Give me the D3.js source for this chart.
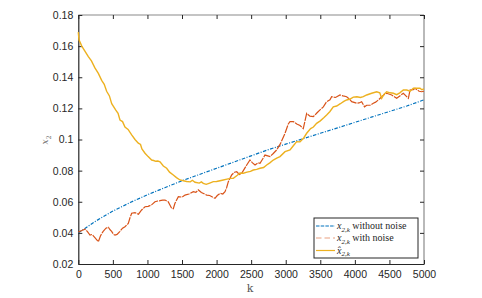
<!DOCTYPE html>
<html><head><meta charset="utf-8">
<script src="https://cdn.jsdelivr.net/npm/d3@7"></script>
<style>body{margin:0;background:#fff}svg{display:block}</style>
</head><body>
<svg id="c" width="482" height="298"></svg>
<script>
const xTicks = [0,500,1000,1500,2000,2500,3000,3500,4000,4500,5000];
const yTicks = [0.02,0.04,0.06,0.08,0.1,0.12,0.14,0.16,0.18];

const kBlue = [0,250,500,750,1000,1250,1500,1750,2000,2250,2500,2750,3000,3250,3500,3750,4000,4250,4500,4750,5000];
const vBlue = [0.040,0.0475,0.054,0.0595,0.0645,0.069,0.0735,0.0775,0.0815,0.0855,0.0895,0.0935,0.097,0.1005,0.104,0.1075,0.111,0.1145,0.118,0.1215,0.1255];

const kRed = [0,50,97,130,169,200,240,290,320,357,400,434,460,482,510,531,560,603,640,675,723,750,772,820,870,916,965,1010,1060,1109,1150,1182,1220,1254,1300,1350,1374,1398,1447,1500,1543,1600,1663,1700,1736,1780,1857,1900,1977,2010,2050,2090,2122,2145,2170,2218,2260,2291,2330,2363,2400,2436,2483,2520,2556,2600,2628,2660,2700,2740,2773,2820,2869,2920,2990,3037,3062,3110,3160,3207,3254,3303,3350,3399,3450,3496,3544,3592,3640,3664,3720,3785,3830,3881,3920,3954,4026,4060,4098,4140,4171,4219,4267,4300,4340,4388,4430,4460,4533,4605,4650,4701,4774,4798,4846,4870,4930,4966,5000];
const vRed = [0.0405,0.0415,0.0423,0.041,0.0386,0.039,0.037,0.0343,0.038,0.0408,0.043,0.0436,0.042,0.041,0.039,0.0386,0.039,0.041,0.043,0.044,0.046,0.050,0.0526,0.053,0.052,0.0547,0.0568,0.057,0.058,0.060,0.0605,0.0607,0.061,0.0611,0.060,0.0558,0.0555,0.059,0.0633,0.063,0.0643,0.065,0.0665,0.066,0.0676,0.066,0.0643,0.064,0.0622,0.064,0.0654,0.065,0.0665,0.069,0.0729,0.0772,0.079,0.0793,0.0775,0.0783,0.081,0.0836,0.0868,0.085,0.0836,0.085,0.0847,0.087,0.090,0.0895,0.089,0.091,0.0933,0.097,0.104,0.110,0.1115,0.1115,0.110,0.109,0.107,0.1168,0.115,0.1147,0.117,0.119,0.121,0.1243,0.1255,0.1275,0.127,0.1286,0.128,0.1275,0.126,0.1243,0.1233,0.1235,0.1243,0.121,0.122,0.122,0.1233,0.124,0.1254,0.1275,0.129,0.1297,0.1286,0.1265,0.128,0.1297,0.1265,0.1318,0.132,0.1329,0.131,0.1307,0.131];

const kYel = [0,10,50,100,145,190,240,290,338,375,410,450,483,540,575,603,640,675,720,772,820,868,900,920,965,1010,1061,1090,1120,1150,1182,1230,1278,1320,1374,1420,1471,1520,1568,1620,1650,1688,1750,1780,1808,1850,1900,1953,2000,2050,2097,2150,2200,2242,2300,2339,2387,2440,2490,2531,2580,2628,2680,2725,2770,2820,2870,2917,2990,3062,3110,3158,3207,3260,3303,3360,3400,3447,3500,3550,3592,3640,3688,3737,3790,3840,3881,3930,3978,4030,4080,4122,4171,4243,4316,4360,4388,4420,4460,4510,4557,4605,4650,4701,4750,4800,4846,4895,4942,4970,5000];
const vYel = [0.169,0.164,0.160,0.1565,0.1532,0.1505,0.146,0.1425,0.138,0.1355,0.131,0.128,0.123,0.119,0.1168,0.1125,0.1115,0.108,0.1065,0.103,0.100,0.0976,0.0968,0.094,0.0912,0.089,0.0868,0.0865,0.086,0.0862,0.0857,0.083,0.0815,0.079,0.0772,0.0755,0.074,0.0735,0.073,0.0728,0.0738,0.0725,0.072,0.0728,0.0718,0.0712,0.072,0.0729,0.073,0.0735,0.074,0.0745,0.075,0.0751,0.077,0.0785,0.0783,0.079,0.0795,0.0804,0.0808,0.0815,0.082,0.0836,0.085,0.0868,0.088,0.089,0.0922,0.0933,0.096,0.0986,0.0985,0.101,0.104,0.107,0.108,0.1104,0.112,0.114,0.1158,0.118,0.121,0.1215,0.123,0.1245,0.1254,0.126,0.1272,0.1275,0.127,0.1275,0.1286,0.1297,0.1307,0.130,0.1265,0.129,0.1307,0.130,0.1297,0.1288,0.130,0.1318,0.1318,0.131,0.1329,0.1329,0.1329,0.132,0.1325];

const svg = d3.select("#c");
const L = 78.3, R = 424, T = 15, B = 264;
const x = d3.scaleLinear().domain([0,5000]).range([L,R]);
const y = d3.scaleLinear().domain([0.02,0.18]).range([B,T]);
const axisCol = "#262626", frameCol = "#8a8a8a";
const tickFont = "'Liberation Sans', Arial, sans-serif";

// frame top/right
svg.append("line").attr("x1",L).attr("x2",R).attr("y1",T).attr("y2",T).attr("stroke",frameCol).attr("stroke-width",1.2);
svg.append("line").attr("x1",R).attr("x2",R).attr("y1",T).attr("y2",B).attr("stroke",frameCol).attr("stroke-width",1.2);
const ticksTop = svg.append("g").attr("transform",`translate(0,${T})`).call(d3.axisTop(x).tickValues(xTicks).tickSize(-4).tickFormat(""));
ticksTop.select(".domain").remove();
ticksTop.selectAll("line").attr("stroke",axisCol);
const ticksRight = svg.append("g").attr("transform",`translate(${R},0)`).call(d3.axisRight(y).tickValues(yTicks).tickSize(-4).tickFormat(""));
ticksRight.select(".domain").remove();
ticksRight.selectAll("line").attr("stroke",axisCol);

// bottom axis
const gx = svg.append("g").attr("transform",`translate(0,${B})`)
  .call(d3.axisBottom(x).tickValues(xTicks).tickSizeInner(-4).tickSizeOuter(0).tickPadding(7).tickFormat(d3.format("d")));
gx.select(".domain").attr("stroke",axisCol).attr("stroke-width",1.2);
gx.selectAll("line").attr("stroke",axisCol);
gx.selectAll("text").attr("fill",axisCol).style("font-family",tickFont).style("font-size","10.5px");

// left axis
const gy = svg.append("g").attr("transform",`translate(${L},0)`)
  .call(d3.axisLeft(y).tickValues(yTicks).tickSizeInner(-4).tickSizeOuter(0).tickPadding(5).tickFormat(d => d3.format("")(+d.toFixed(2))));
gy.select(".domain").attr("stroke",axisCol).attr("stroke-width",1.2);
gy.selectAll("line").attr("stroke",axisCol);
gy.selectAll("text").attr("fill",axisCol).style("font-family",tickFont).style("font-size","10.5px");

// lines
const line = d3.line().x(d => x(d[0])).y(d => y(d[1]));
const plot = svg.append("g");
plot.append("path").datum(kBlue.map((k,i)=>[k,vBlue[i]])).attr("d",line)
  .attr("fill","none").attr("stroke","#0072BD").attr("stroke-width",1.2).attr("stroke-dasharray","3.5,1.5,1,1.5");
plot.append("path").datum(kRed.map((k,i)=>[k,vRed[i]])).attr("d",line)
  .attr("fill","none").attr("stroke","#D95319").attr("stroke-width",1.2).attr("stroke-dasharray","8,1");
plot.append("path").datum(kYel.map((k,i)=>[k,vYel[i]])).attr("d",line)
  .attr("fill","none").attr("stroke","#EDB120").attr("stroke-width",1.4);

// axis labels
svg.append("text").attr("x",250).attr("y",292).attr("text-anchor","middle")
  .style("font-family","'DejaVu Serif', serif").style("font-size","11px").attr("fill","#555").text("k");
const yl = svg.append("text").attr("transform","translate(48,140) rotate(-90)").attr("text-anchor","middle")
  .style("font-family","'DejaVu Serif', serif").style("font-size","9px").attr("fill","#777");
yl.append("tspan").style("font-style","italic").text("x");
yl.append("tspan").attr("dy",2.5).style("font-size","6.5px").text("2");

// legend
const lg = svg.append("g");
lg.append("rect").attr("x",314).attr("y",218).attr("width",104).attr("height",40)
  .attr("fill","#fff").attr("stroke",axisCol).attr("stroke-width",1);
const items = [
  {c:"#0072BD", dash:"3.5,1.2", op:1, hat:false, txt:" without noise"},
  {c:"#D95319", dash:"5.5,3", op:0.55, hat:false, txt:" with noise"},
  {c:"#EDB120", dash:null, op:1, hat:true, txt:""}
];
const rowsY = [226, 238, 250.5];
items.forEach((it,i) => {
  const yy = rowsY[i];
  const ln = lg.append("line").attr("x1",316).attr("x2",335).attr("y1",yy).attr("y2",yy)
    .attr("stroke",it.c).attr("stroke-width",1.2).attr("opacity",it.op);
  if (it.dash) ln.attr("stroke-dasharray",it.dash);
  const t = lg.append("text").attr("x",337).attr("y",yy+3)
    .style("font-family","'Liberation Serif', 'DejaVu Serif', serif").style("font-size","10px").attr("fill","#262626");
  t.append("tspan").style("font-style","italic").text(it.hat ? "x\u0302" : "x");
  t.append("tspan").attr("dy",2.5).style("font-size","7px").style("font-style","italic").text("2,k");
  if (it.txt) t.append("tspan").attr("dy",-2.5).text(it.txt);
});
</script>
</body></html>
